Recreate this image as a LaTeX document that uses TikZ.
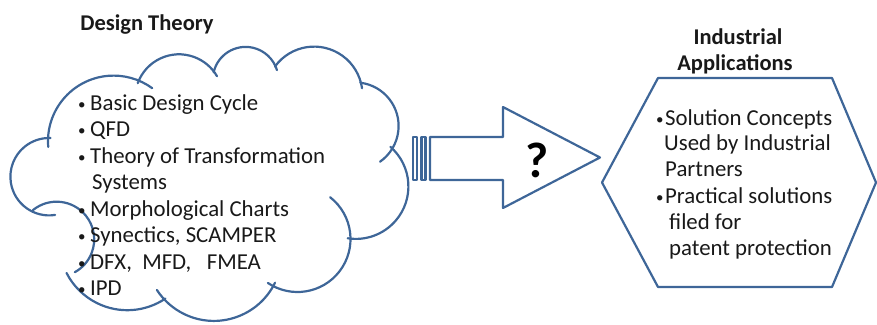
\documentclass[tikz,border=0pt]{standalone}
\usepackage{fontspec}
\setmainfont{Carlito}
\definecolor{edge}{RGB}{62,102,152}
\newcommand{\bulA}{\makebox[12pt][l]{\fontsize{15}{15}\selectfont\raisebox{1pt}{•}}}
\newcommand{\bulB}{\makebox[9pt][l]{\fontsize{15}{15}\selectfont\raisebox{1pt}{•}}}
\begin{document}
\begin{tikzpicture}[x=1pt,y=-1pt,
  outl/.style={draw=edge,line width=2.2pt,line join=round},
  puff/.style={draw=edge,line width=2.2pt,line cap=round},
  bul/.style={anchor=base west,inner sep=0pt,font=\fontsize{22.8}{26}\selectfont,text=black!90},
  ttl/.style={anchor=base,inner sep=0pt,font=\fontsize{22.5}{26}\selectfont\bfseries,text=black!90}]
\useasboundingbox (0,0) rectangle (877,324);
% cloud: circle centres of the puffs
\coordinate (c1) at (113.6,141.2);
\coordinate (c2) at (179,98.2);
\coordinate (c3) at (245.6,79.7);
\coordinate (c4) at (314.1,95);
\coordinate (c5) at (355,126);
\coordinate (c6) at (355.9,186.4);
\coordinate (c7) at (297.5,239);
\coordinate (c8) at (213.9,252.9);
\coordinate (c9) at (127.3,242);
\coordinate (c10) at (56.6,239.3);
\coordinate (c11) at (49.1,176.7);
\draw[puff] (c1) ++(175:65.6) arc[start angle=175,end angle=306,radius=65.6];
\draw[puff] (c2) ++(200:43.9) arc[start angle=200,end angle=330,radius=43.9];
\draw[puff] (c3) ++(193:32.8) arc[start angle=193,end angle=343,radius=32.8];
\draw[puff] (c4) ++(216:48.4) arc[start angle=216,end angle=352,radius=48.4];
\draw[puff] (c5) ++(277:43.6) arc[start angle=277,end angle=415,radius=43.6];
\draw[puff] (c6) ++(311:52.5) arc[start angle=311,end angle=459,radius=52.5];
\draw[puff] (c7) ++(308:53) arc[start angle=308,end angle=484,radius=53];
\draw[puff] (c8) ++(26:68) arc[start angle=26,end angle=147,radius=68];
\draw[puff] (c9) ++(56:68.2) arc[start angle=56,end angle=153,radius=68.2];
\draw[puff] (c10) ++(231:37.6) arc[start angle=231,end angle=421,radius=37.6];
\draw[puff] (c11) ++(81:38.7) arc[start angle=81,end angle=272,radius=38.7];
% titles
\node[ttl] (dt) at (147,30) {Design Theory};
\node[ttl] (ia1) at (738,44) {Industrial};
\node[ttl] (ia2) at (735,70) {Applications};
% cloud text
\node[bul] (d1) at (78,110) {\bulA Basic Design Cycle};
\node[bul] (d2) at (78,136.5) {\bulA QFD};
\node[bul] (d3) at (78,163) {\bulA Theory of Transformation};
\node[bul] (d4) at (92,189.5) {Systems};
\node[bul] (d5) at (78,216) {\bulA Morphological Charts};
\node[bul] (d6) at (78,242.5) {\bulA Synectics, SCAMPER};
\node[bul] (d7) at (78,269) {\bulA DFX,\ \ MFD,\ \ \ FMEA};
\node[bul] (d8) at (78,295.5) {\bulA IPD};
% block arrow
\draw[outl] (413,137) rectangle (417,180);
\draw[outl] (421.5,137) rectangle (425.5,180);
\draw[outl] (430,137) -- (503,137) -- (503,107) -- (600,157.5) -- (503,208) -- (503,180) -- (430,180) -- cycle;
\node[inner sep=0pt,font=\fontsize{50}{50}\selectfont\bfseries] (q) at (537,160) {?};
% hexagon
\draw[outl] (658,78) -- (832,78) -- (876,182.5) -- (832,287) -- (658,287) -- (602,182.5) -- cycle;
\node[bul] (a1) at (656,125) {\bulB Solution Concepts};
\node[bul] (a2) at (664,150.5) {Used by Industrial};
\node[bul] (a3) at (665,176.5) {Partners};
\node[bul] (a4) at (656,203) {\bulB Practical solutions};
\node[bul] (a5) at (669,229) {filed for};
\node[bul] (a6) at (669,255) {patent protection};
\end{tikzpicture}
\end{document}
